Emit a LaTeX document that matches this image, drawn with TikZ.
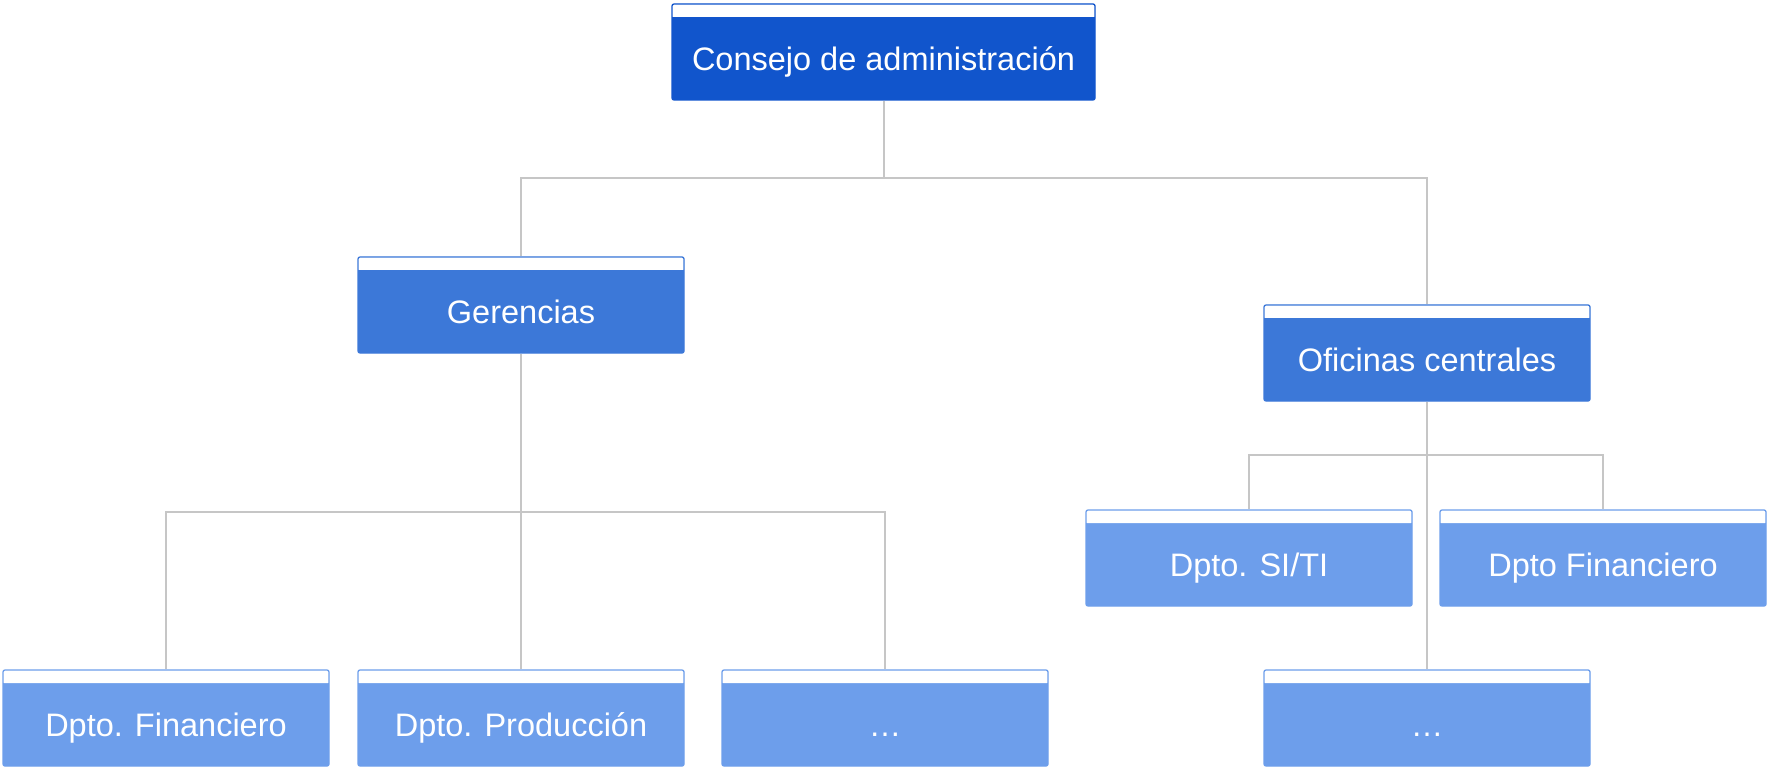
\documentclass[tikz,border=0pt]{standalone}
\usepackage{fontspec}
\setmainfont{Liberation Sans}
\definecolor{lvlA}{HTML}{1155CC}
\definecolor{lvlB}{HTML}{3C78D8}
\definecolor{lvlC}{HTML}{6D9EEB}
\definecolor{connc}{HTML}{C6C6C6}
\tikzset{
  orgbox/.style={rectangle, rounded corners=2pt, line width=1.3pt, minimum width=326pt, minimum height=96pt,
    inner xsep=0pt, inner ysep=0pt, text=white, font=\fontsize{32.5}{38}\selectfont,
    text height=50pt, text depth=13pt,
    path picture={\fill[white] ([xshift=-1pt,yshift=1pt]path picture bounding box.north west) rectangle ([xshift=1pt,yshift=-13pt]path picture bounding box.north east);}},
  boxA/.style={orgbox, fill=lvlA, draw=lvlA, minimum width=423pt},
  boxB/.style={orgbox, fill=lvlB, draw=lvlB},
  boxC/.style={orgbox, fill=lvlC, draw=lvlC},
  conn/.style={draw=connc, line width=2pt}
}
\begin{document}
\begin{tikzpicture}[x=1pt,y=-1pt]
\useasboundingbox (0,0) rectangle (1767,767);
\node[boxA] (top) at (883.5,52) {Consejo de administración};
\node[boxB] (ger) at (521,305) {Gerencias};
\node[boxB] (ofi) at (1427,353) {Oficinas centrales};
\node[boxC] (siti) at (1249,558) {Dpto. SI/TI};
\node[boxC] (fin2) at (1603,558) {Dpto Financiero};
\node[boxC] (fin) at (166,718) {Dpto. Financiero};
\node[boxC] (prod) at (521,718) {Dpto. Producción};
\node[boxC] (dots1) at (885,718) {…};
\node[boxC] (dots2) at (1427,718) {…};
\draw[conn] (top.south) -- (top.south |- 0,178) coordinate (jA) -| (ger.north);
\draw[conn] (jA) -| (ofi.north);
\draw[conn] (ger.south) -- (prod.north);
\draw[conn] (ger.south |- 0,512) coordinate (jB) -| (fin.north);
\draw[conn] (jB) -| (dots1.north);
\draw[conn] (ofi.south) -- (dots2.north);
\draw[conn] (ofi.south |- 0,455) coordinate (jC) -| (siti.north);
\draw[conn] (jC) -| (fin2.north);
\end{tikzpicture}
\end{document}
